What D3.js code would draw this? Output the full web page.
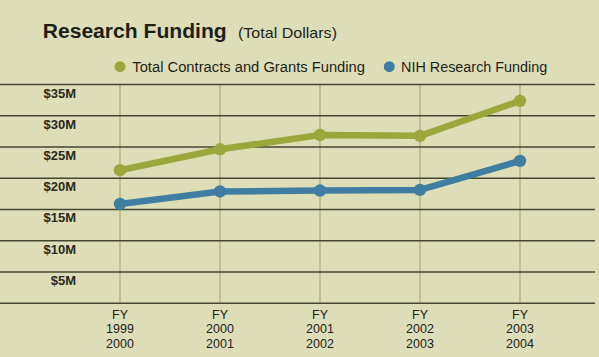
<!DOCTYPE html>
<html><head><meta charset="utf-8">
<script src="https://cdn.jsdelivr.net/npm/d3@7"></script>
<style>
html,body{margin:0;padding:0;background:#dddeb7;}
svg{display:block;font-family:"Liberation Sans",Arial,Helvetica,sans-serif;}
</style></head>
<body>
<svg id="chart" width="599" height="357"></svg>
<script>
const categories = [["FY","1999","2000"],["FY","2000","2001"],["FY","2001","2002"],["FY","2002","2003"],["FY","2003","2004"]];
const totalFunding = [21.2, 24.55, 26.85, 26.7, 32.3];
const nihFunding = [15.8, 17.8, 17.95, 18.05, 22.7];
const yTicks = [0, 5, 10, 15, 20, 25, 30, 35];
const yTickLabels = ["", "$5M", "$10M", "$15M", "$20M", "$25M", "$30M", "$35M"];
const seriesNames = ["Total Contracts and Grants Funding", "NIH Research Funding"];
const seriesColors = ["#9aa83b", "#3f7ea1"];

const svg = d3.select("#chart");
const W = 599, H = 357;
svg.append("rect").attr("width", W).attr("height", H).attr("fill", "#dddeb7");

const x = d3.scalePoint().domain(d3.range(categories.length)).range([120, 520]);
const y = d3.scaleLinear().domain([0, 35]).range([302.7, 84]);

function stretch(sel, f) {
  sel.each(function(){ const l = this.getComputedTextLength(); d3.select(this).attr("textLength", l*f).attr("lengthAdjust","spacingAndGlyphs"); });
}

// vertical grid
svg.append("g").selectAll("line").data(categories).join("line")
  .attr("x1", (d,i)=>x(i)).attr("x2", (d,i)=>x(i))
  .attr("y1", y(35)).attr("y2", y(0))
  .attr("stroke", "#bcbf8e").attr("stroke-width", 2);

// horizontal lines via axis
const yAxis = d3.axisLeft(y).tickValues(yTicks).tickSize(-595).tickFormat("");
const gy = svg.append("g").call(yAxis);
gy.select(".domain").remove();
gy.selectAll(".tick line").attr("stroke", "#45452f").attr("stroke-width", 1.6).attr("x1", 0).attr("x2", 595);

// y labels
const yl = svg.append("g").selectAll("text").data(yTicks.filter(v=>v>0)).join("text")
  .attr("x", 76).attr("y", d => y(d) + 13.5)
  .attr("text-anchor", "end").attr("font-size", 12.5).attr("font-weight", "bold").attr("fill", "#2a2a20")
  .text(d => yTickLabels[yTicks.indexOf(d)]);
stretch(yl, 1.04);

// x labels
const xl = svg.append("g").selectAll("text").data(categories).join("text")
  .attr("text-anchor", "middle").attr("font-size", 12.5).attr("fill", "#222218")
  .attr("transform", (d,i)=>`translate(${x(i)},0)`);
xl.selectAll("tspan").data(d=>d).join("tspan").attr("x", 0).attr("y", (d,j)=>319.3 + j*14.1).text(d=>d);

// lines
const line = d3.line().x((d,i)=>x(i)).y(d=>y(d));
[totalFunding, nihFunding].forEach((s, k) => {
  svg.append("path").datum(s).attr("d", line).attr("fill","none")
    .attr("stroke", seriesColors[k]).attr("stroke-width", 6.5).attr("stroke-linejoin","round");
  svg.append("g").selectAll("circle").data(s).join("circle")
    .attr("cx",(d,i)=>x(i)).attr("cy", d=>y(d)).attr("r", 6.2).attr("fill", seriesColors[k]);
});

// title
svg.append("text").attr("x", 42.7).attr("y", 38).attr("font-size", 20).attr("font-weight","bold").attr("fill","#1e1e18")
  .attr("textLength", 184).attr("lengthAdjust","spacingAndGlyphs").text("Research Funding");
svg.append("text").attr("x", 238).attr("y", 38).attr("font-size", 15).attr("fill","#1e1e18")
  .attr("textLength", 99).attr("lengthAdjust","spacingAndGlyphs").text("(Total Dollars)");

// legend
const legendPos = [{cx:120, tx:132.3, w:232.7},{cx:389.3, tx:401, w:146.3}];
seriesNames.forEach((n,k)=>{
  svg.append("circle").attr("cx", legendPos[k].cx).attr("cy", 66.7).attr("r", 5.5).attr("fill", seriesColors[k]);
  svg.append("text").attr("x", legendPos[k].tx).attr("y", 71.7).attr("font-size", 14).attr("fill","#1e1e18")
    .attr("textLength", legendPos[k].w).attr("lengthAdjust","spacingAndGlyphs").text(n);
});
</script>
</body></html>
